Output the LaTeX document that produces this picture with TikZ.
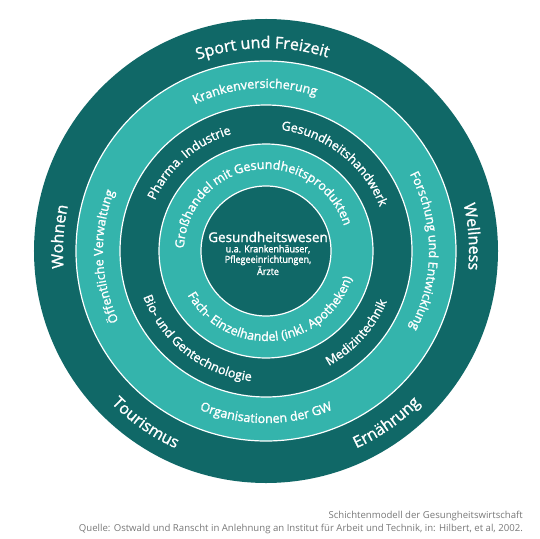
\documentclass[tikz,border=0pt]{standalone}
\usepackage{fontspec}
\setmainfont{Open Sans}
\newfontfamily\lblfont{Open Sans}[FakeBold=1.4]
\newfontfamily\condfont{Open Sans}[FakeBold=1.6,FakeStretch=0.92]
\usetikzlibrary{decorations.text}
\definecolor{darkteal}{RGB}{16,104,103}
\definecolor{lightteal}{RGB}{52,180,172}
\definecolor{captiongray}{RGB}{120,120,120}
% clockwise label: radius, centre angle, half span, font size, text
\newcommand{\cwlabel}[5]{%
  \path[decorate,decoration={text along path,text align=center,
    text={|\color{white}\lblfont\fontsize{#4}{#4}\selectfont|#5}}]
    ({#2+#3}:#1pt) arc[start angle={#2+#3},end angle={#2-#3},radius=#1pt];}
% counter-clockwise label
\newcommand{\ccwlabel}[5]{%
  \path[decorate,decoration={text along path,text align=center,
    text={|\color{white}\lblfont\fontsize{#4}{#4}\selectfont|#5}}]
    ({#2-#3}:#1pt) arc[start angle={#2-#3},end angle={#2+#3},radius=#1pt];}
\tikzset{
  ring/.style={draw=white,line width=1.2pt},
  inner/.style={text=white,align=center,inner sep=0pt},
  caption/.style={anchor=base east,text=captiongray,inner sep=0pt,font=\fontsize{9.6}{11}\selectfont}
}
\begin{document}
\begin{tikzpicture}[x=1pt,y=1pt]
\useasboundingbox (-266,-287) rectangle (274,251);
\fill[darkteal] (0,0) circle[radius=232pt];
\filldraw[ring,fill=lightteal] (0,0) circle[radius=190pt];
\filldraw[ring,fill=darkteal] (0,0) circle[radius=146pt];
\filldraw[ring,fill=lightteal] (0,0) circle[radius=107pt];
\filldraw[ring,fill=darkteal] (0,0) circle[radius=65pt];
% outer ring
\cwlabel{203}{91}{60}{16}{Sport und Freizeit}
\cwlabel{203}{176}{60}{16}{Wohnen}
\cwlabel{203}{4}{60}{16}{Wellness}
\ccwlabel{217}{235}{60}{16}{Tourismus}
\ccwlabel{217}{305}{60}{16}{Ernährung}
% ring 2
\cwlabel{163}{94}{60}{12.5}{Krankenversicherung}
\cwlabel{163}{182}{70}{12.5}{Öffentliche Verwaltung}
\cwlabel{163}{0}{70}{12.5}{Forschung und Entwicklung}
\ccwlabel{172}{270}{60}{12.5}{Organisationen der GW}
% ring 3
\cwlabel{122}{131}{60}{12.5}{Pharma. Industrie}
\cwlabel{122}{52}{70}{12.5}{Gesundheitshandwerk}
\ccwlabel{131}{232}{70}{12.5}{Bio- und Gentechnologie}
\ccwlabel{131}{318}{50}{12.5}{Medizintechnik}
% ring 4
\cwlabel{82}{98}{110}{12.5}{Großhandel mit Gesundheitsprodukten}
\ccwlabel{90}{276}{110}{12.5}{Fach- Einzelhandel (inkl. Apotheken)}
% centre
\node[inner,font=\lblfont\fontsize{13.5}{15}\selectfont] (gw) at (2,14) {Gesundheitswesen};
\node[inner,font=\condfont\fontsize{9.8}{10.5}\selectfont] (gwsub) at (2,-9) {u.a. Krankenhäuser,\\Pflegeeinrichtungen,\\Ärzte};
% caption
\node[caption] (cap1) at (257,-267) {Schichtenmodell der Gesungheitswirtschaft};
\node[caption] (cap2) at (257,-280) {Quelle: Ostwald und Ranscht in Anlehnung an Institut für Arbeit und Technik, in: Hilbert, et al, 2002.};
\end{tikzpicture}
\end{document}
